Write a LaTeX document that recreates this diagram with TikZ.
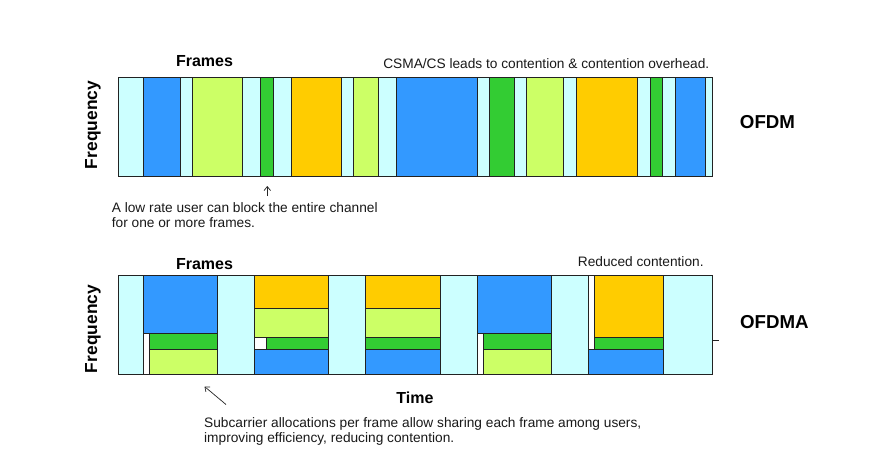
\documentclass[tikz,border=0pt]{standalone}
\usepackage{fontspec}
\setmainfont{Liberation Sans}
\usetikzlibrary{arrows.meta}
\definecolor{cCyan}{HTML}{CCFFFF}
\definecolor{cBlue}{HTML}{3399FF}
\definecolor{cLime}{HTML}{CCFF66}
\definecolor{cGreen}{HTML}{33CC33}
\definecolor{cOrange}{HTML}{FFCC00}
\definecolor{cEdge}{HTML}{222222}
\tikzset{
  seg/.style={draw=cEdge, line width=0.8pt},
  note/.style={inner sep=0pt, font=\fontsize{13.7}{15.2}\selectfont, align=left, text=black!90},
  title/.style={inner sep=0pt, font=\fontsize{16}{18}\selectfont\bfseries},
  big/.style={inner sep=0pt, font=\fontsize{18.7}{20}\selectfont\bfseries},
  freq/.style={inner sep=0pt, font=\fontsize{17.4}{19}\selectfont\bfseries, rotate=90},
  pointer/.style={draw=black!85, line width=0.7pt, -{Straight Barb[length=4pt,width=6.5pt]}}
}
\begin{document}
\begin{tikzpicture}[x=1pt,y=-1pt]
\useasboundingbox[fill=white] (0,0) rectangle (869,475);

% ---------- OFDM band ----------
\foreach \a/\b/\c in {118.3/143.3/cCyan, 143.3/180.3/cBlue, 180.3/192.7/cCyan,
  192.7/242.7/cLime, 242.7/260.7/cCyan, 260.7/273/cGreen, 273/291.7/cCyan,
  291.7/341/cOrange, 341/353.7/cCyan, 353.7/378.3/cLime, 378.3/396.7/cCyan,
  396.7/477.3/cBlue, 477.3/489.3/cCyan, 489.3/514.3/cGreen, 514.3/526.7/cCyan,
  526.7/563.3/cLime, 563.3/576/cCyan, 576/637.7/cOrange, 637.7/650/cCyan,
  650/662.7/cGreen, 662.7/675/cCyan, 675/705.7/cBlue, 705.7/712.3/cCyan}
  \draw[seg, fill=\c] (\a,77.3) rectangle (\b,176);

% ---------- OFDMA band ----------
\foreach \a/\b in {118.3/143.3, 217.3/254.3, 328.7/365.7, 440/477.3, 551.7/588.7, 663/712.3}
  \draw[seg, fill=cCyan] (\a,275.7) rectangle (\b,374.3);
% frame 1 and frame 4
\foreach \a/\w/\b in {143.3/149.3/217.3, 477.3/483.3/551.7} {
  \draw[seg, fill=cBlue]  (\a,275.7) rectangle (\b,333);
  \draw[seg, fill=white]  (\a,333) rectangle (\w,374.3);
  \draw[seg, fill=cGreen] (\w,333) rectangle (\b,349.7);
  \draw[seg, fill=cLime]  (\w,349.7) rectangle (\b,374.3);
}
% frame 2 and frame 3
\foreach \a/\w/\b in {254.3/266.7/328.7, 365.7/365.7/440} {
  \draw[seg, fill=cOrange] (\a,275.7) rectangle (\b,308.3);
  \draw[seg, fill=cLime]   (\a,308.3) rectangle (\b,337.3);
  \draw[seg, fill=white]   (\a,337.3) rectangle (\w,349.7);
  \draw[seg, fill=cGreen]  (\w,337.3) rectangle (\b,349.7);
  \draw[seg, fill=cBlue]   (\a,349.7) rectangle (\b,374.3);
}
% frame 5
\draw[seg, fill=white]   (588.7,275.7) rectangle (594.3,349.7);
\draw[seg, fill=cOrange] (594.3,275.7) rectangle (663,337.3);
\draw[seg, fill=cGreen]  (594.3,337.3) rectangle (663,349.7);
\draw[seg, fill=cBlue]   (588.7,349.7) rectangle (663,374.3);
% small tick at right edge
\coordinate (tickA) at (712.3,340.3);
\coordinate (tickB) at (719,340.3);
\draw[draw=cEdge, line width=0.8pt] (tickA) -- (tickB);

% ---------- labels ----------
\node[title] (frames1) at (204.5,60.7) {Frames};
\node[title] (frames2) at (204.5,264) {Frames};
\node[note, anchor=base east] (csma) at (709.5,68.3) {CSMA/CS leads to contention \& contention overhead.};
\node[note, anchor=base east] (reduced) at (703.8,266.7) {Reduced contention.};
\node[big] (ofdm) at (767.5,121.7) {OFDM};
\node[big] (ofdma) at (774.3,321.7) {OFDMA};
\node[freq] (freq1) at (93,125) {Frequency};
\node[freq] (freq2) at (93,329) {Frequency};
\node[title] (time) at (415,398) {Time};

\node[note, anchor=north west] (low) at (111.7,202) {A low rate user can block the entire channel\\for one or more frames.};
\node[note, anchor=north west] (sub) at (204,417) {Subcarrier allocations per frame allow sharing each frame among users,\\improving efficiency, reducing contention.};

\coordinate (upTail) at (267.3,196);
\coordinate (upTip) at (267.3,186);
\draw[pointer] (upTail) -- (upTip);
\coordinate (diagTail) at (226,404.5);
\coordinate (diagTip) at (204.5,386.5);
\draw[pointer] (diagTail) -- (diagTip);
\end{tikzpicture}
\end{document}
